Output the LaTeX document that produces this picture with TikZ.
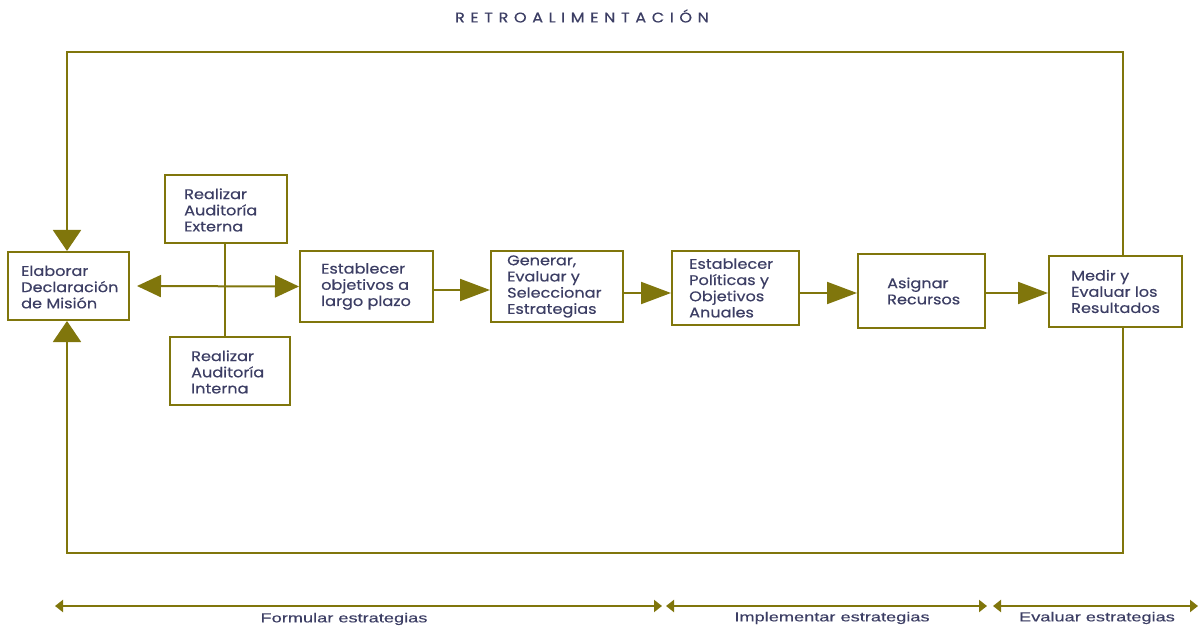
\documentclass[tikz,border=0pt]{standalone}
\usepackage{fontspec}
\setmainfont{Poppins}
\newfontfamily\boxfont{Poppins}[FakeStretch=1.15,FakeBold=0.4]
\newfontfamily\titlefont{Poppins}[FakeStretch=1.15,FakeBold=0.5,LetterSpace=40]
\newfontfamily\labelfont{Liberation Sans}[FakeStretch=1.4,FakeBold=0.3]
\usetikzlibrary{arrows.meta}
\definecolor{olivel}{RGB}{128,118,12}
\definecolor{inkblue}{RGB}{60,62,100}
\tikzset{
  box/.style={draw=olivel, line width=2pt, fill=white, inner sep=0pt,
    anchor=center},
  boxtext/.style={anchor=west, align=left, inner sep=0pt, text=inkblue,
    font=\boxfont\fontsize{14}{16.2}\selectfont},
  flow/.style={draw=olivel, line width=2pt,
    -{Triangle[length=30pt,width=22pt]}},
  feed/.style={draw=olivel, line width=2pt,
    -{Triangle[length=21pt,width=28pt]}},
  stage/.style={draw=olivel, line width=2pt,
    {Triangle[length=8pt,width=12pt]}-{Triangle[length=8pt,width=12pt]}},
  stagelabel/.style={font=\labelfont\fontsize{13}{15}\selectfont, text=inkblue,
    inner sep=0pt},
}
\begin{document}
\begin{tikzpicture}[x=1pt,y=-1pt]
\useasboundingbox (0,0) rectangle (1204,628);

% title of the feedback loop
\node[font=\titlefont\fontsize{14}{15}\selectfont, text=inkblue]
  (titulo) at (582,16) {RETROALIMENTACIÓN};

% process boxes
\node[box, minimum width=121pt, minimum height=68pt] (elab) at (68.5,286) {};
\node[box, minimum width=122pt, minimum height=68pt] (ext) at (226,209) {};
\node[box, minimum width=120pt, minimum height=68pt] (int) at (230,371) {};
\node[box, minimum width=133pt, minimum height=71pt] (obj) at (366.5,286.5) {};
\node[box, minimum width=132pt, minimum height=71pt] (gen) at (557,286.5) {};
\node[box, minimum width=127pt, minimum height=74pt] (pol) at (735.5,288) {};
\node[box, minimum width=127pt, minimum height=74pt] (asig) at (921.5,291) {};
\node[box, minimum width=133pt, minimum height=71pt] (medir) at (1115.5,291.5) {};

% box texts
\node[boxtext] (elab-t) at ([xshift=14pt,yshift=-1pt]elab.west) {Elaborar\\Declaración\\de Misión};
\node[boxtext] (ext-t) at ([xshift=20pt,yshift=-1pt]ext.west) {Realizar\\Auditoría\\Externa};
\node[boxtext] (int-t) at ([xshift=22pt,yshift=-1pt]int.west) {Realizar\\Auditoría\\Interna};
\node[boxtext] (obj-t) at ([xshift=22pt]obj.west) {Establecer\\objetivos a\\largo plazo};
\node[boxtext] (gen-t) at ([xshift=17pt]gen.west) {Generar,\\Evaluar y\\Seleccionar\\Estrategias};
\node[boxtext] (pol-t) at ([xshift=18pt]pol.west) {Establecer\\Políticas y\\Objetivos\\Anuales};
\node[boxtext] (asig-t) at ([xshift=30pt]asig.west) {Asignar\\Recursos};
\node[boxtext] (medir-t) at ([xshift=23pt]medir.west) {Medir y\\Evaluar los\\Resultados};

% audits feed the mission / objectives link
\coordinate (cruce) at (225,286);
\draw[draw=olivel, line width=2pt] (ext.south -| cruce) -- (int.north -| cruce);
\draw[draw=olivel, line width=2pt,
  {Triangle[length=24pt,width=22pt]}-{Triangle[length=24pt,width=22pt]}]
  ([xshift=7pt]elab.east) -- (obj.west);

% main flow
\draw[flow] (obj.east |- 0,290) -- (gen.west |- 0,290);
\draw[flow] (gen.east |- 0,293) -- (pol.west |- 0,293);
\draw[flow] (pol.east |- 0,293) -- (asig.west |- 0,293);
\draw[flow] (asig.east |- 0,293) -- (medir.west |- 0,293);

% feedback loop
\coordinate (tl) at (67,52);
\coordinate (tr) at (1123,52);
\coordinate (bl) at (67,553);
\coordinate (br) at (1123,553);
\draw[feed] (medir.north -| tr) -- (tr) -- (tl) -- (elab.north -| tl);
\draw[feed] (medir.south -| br) -- (br) -- (bl) -- (elab.south -| bl);

% strategy stages
\coordinate (f1) at (55,606);
\coordinate (f2) at (662,606);
\coordinate (i1) at (666,606);
\coordinate (i2) at (987,606);
\coordinate (e1) at (993,606);
\coordinate (e2) at (1198,606);
\draw[stage] (f1) -- (f2);
\draw[stage] (i1) -- (i2);
\draw[stage] (e1) -- (e2);
\node[stagelabel] (lf) at (344,619) {Formular estrategias};
\node[stagelabel] (li) at (832,618) {Implementar estrategias};
\node[stagelabel] (le) at (1097,618) {Evaluar estrategias};
\end{tikzpicture}
\end{document}
